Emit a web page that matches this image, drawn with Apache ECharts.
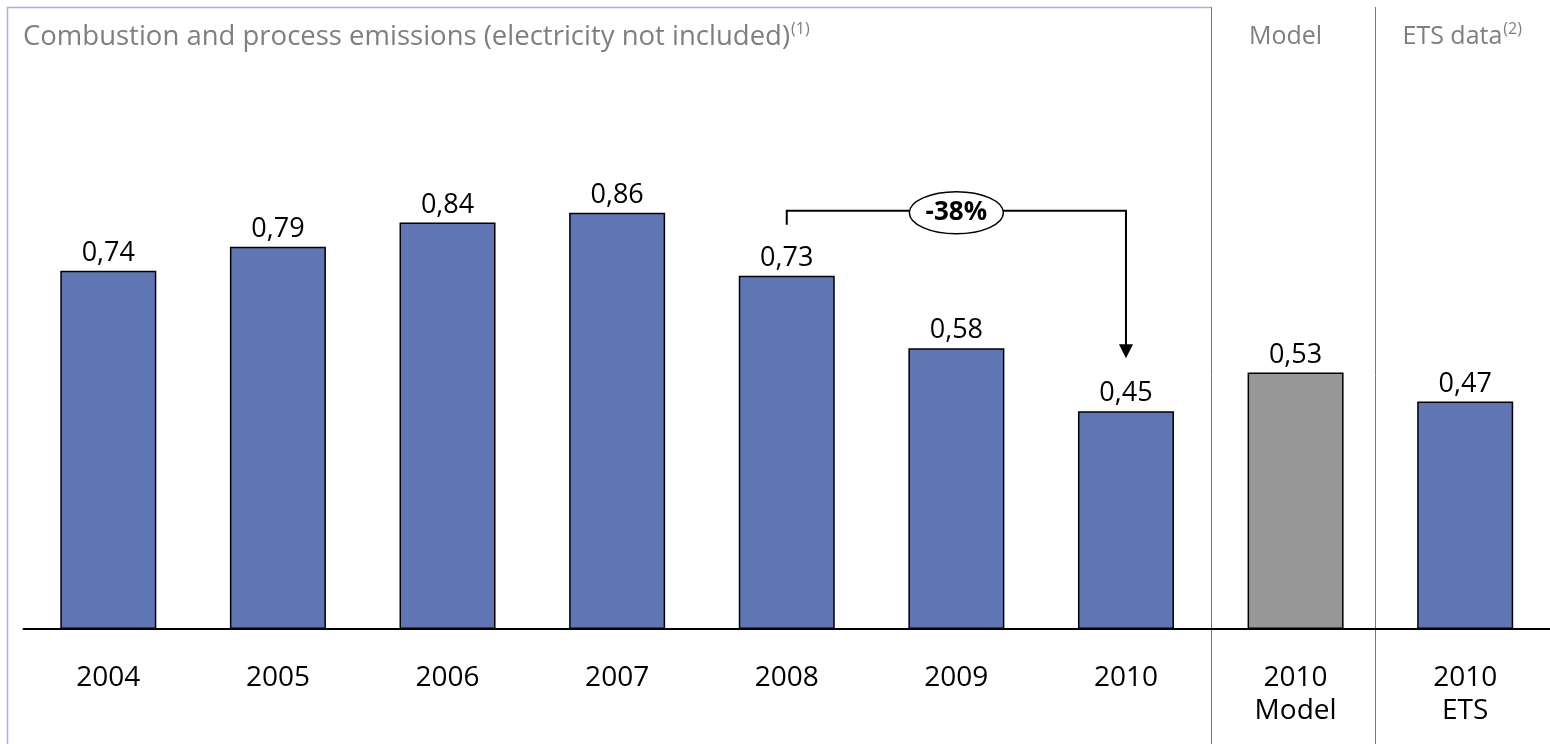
<!DOCTYPE html>
<html>
<head>
<meta charset="utf-8">
<script src="https://cdn.jsdelivr.net/npm/echarts@6/dist/echarts.min.js"></script>
<style>
  html, body { margin: 0; padding: 0; background: #ffffff; }
  #chart { width: 1550px; height: 744px; }
</style>
</head>
<body>
<div id="chart"></div>
<script>
// Emission intensity by year, plus the 2010 model estimate and the 2010 ETS figure
const categories = ['2004', '2005', '2006', '2007', '2008', '2009', '2010', '2010\nModel', '2010\nETS'];
const values = [0.74, 0.79, 0.84, 0.86, 0.73, 0.58, 0.45, 0.53, 0.47];
const titleText = 'Combustion and process emissions (electricity not included)';
const titleNote = '(1)';
const modelHeader = 'Model';
const etsHeader = 'ETS data';
const etsNote = '(2)';
// Change shown between these two years
const changeFrom = 4;
const changeTo = 6;

const FONT = '"Open Sans", "Noto Sans", sans-serif';
const BLUE = '#6076b4';
const GREY = '#979797';
const fmt = v => v.toFixed(2).replace('.', ',');

const chart = echarts.init(document.getElementById('chart'));

chart.setOption({
  animation: false,
  backgroundColor: '#ffffff',
  grid: { left: 23.5, width: 1535, top: 145, bottom: 115 },
  xAxis: {
    type: 'category',
    data: categories,
    axisLine: { lineStyle: { color: '#000000', width: 2 } },
    axisTick: { show: false },
    axisLabel: {
      color: '#000000',
      fontFamily: FONT,
      fontSize: 28,
      lineHeight: 33,
      margin: 33,
      interval: 0
    }
  },
  yAxis: { type: 'value', min: 0, max: 1, show: false },
  series: [{
    type: 'bar',
    data: values,
    barWidth: 96,
    itemStyle: {
      borderColor: '#000000',
      borderWidth: 1.5,
      color: p => categories[p.dataIndex].indexOf('Model') >= 0 ? GREY : BLUE
    },
    label: {
      show: true,
      position: 'top',
      distance: 4,
      color: '#000000',
      fontFamily: FONT,
      fontSize: 27,
      formatter: p => fmt(p.value)
    }
  }]
});

// Decorations placed from the axis scale
function px(i, v) { return chart.convertToPixel({ gridIndex: 0 }, [i, v]); }

const n = categories.length;
const div1 = Math.round((px(n - 3, 0)[0] + px(n - 2, 0)[0]) / 2) + 0.5;
const div2 = Math.round((px(n - 2, 0)[0] + px(n - 1, 0)[0]) / 2 - 5) + 0.5;

const xFrom = px(changeFrom, 0)[0];
const xTo = px(changeTo, 0)[0];
const yStart = px(changeFrom, values[changeFrom])[1] - 51;
const yLevel = px(changeFrom, Math.max.apply(null, values))[1] - 2;
const yTip = px(changeTo, values[changeTo])[1] - 53;
const pct = Math.round((values[changeTo] - values[changeFrom]) / values[changeFrom] * 100);
const midX = (xFrom + xTo) / 2;

const headerRich = { sup: { fontFamily: FONT, fontSize: 16, fill: '#7f7f7f', verticalAlign: 'top', padding: [0, 0, 15, 1] } };

chart.setOption({
  graphic: [
    // outer frame of the yearly panel
    { type: 'polyline', silent: true, shape: { points: [[7.5, 744], [7.5, 7.5], [div1, 7.5]] },
      style: { stroke: '#a8b3cf', lineWidth: 1.5, fill: null } },
    { type: 'line', silent: true, shape: { x1: div1, y1: 7, x2: div1, y2: 744 },
      style: { stroke: '#6677aa', lineWidth: 1 } },
    { type: 'line', silent: true, shape: { x1: div2, y1: 7, x2: div2, y2: 744 },
      style: { stroke: '#6677aa', lineWidth: 1 } },
    // panel headers
    { type: 'text', silent: true, x: 23, y: 37,
      style: { text: titleText + '{sup|' + titleNote + '}', verticalAlign: 'middle', rich: headerRich,
               fontFamily: FONT, fontSize: 27.5, fill: '#7f7f7f' } },
    { type: 'text', silent: true, x: div1 + 74, y: 37,
      style: { text: modelHeader, align: 'center', verticalAlign: 'middle',
               fontFamily: FONT, fontSize: 25, fill: '#7f7f7f' } },
    { type: 'text', silent: true, x: div2 + 27, y: 37,
      style: { text: etsHeader + '{sup|' + etsNote + '}', align: 'left', verticalAlign: 'middle', rich: headerRich,
               fontFamily: FONT, fontSize: 25, fill: '#7f7f7f' } },
    // change bracket with arrow
    { type: 'polyline', silent: true,
      shape: { points: [[xFrom, yStart], [xFrom, yLevel], [xTo, yLevel], [xTo, yTip - 12]] },
      style: { stroke: '#000000', lineWidth: 2, fill: null } },
    { type: 'polygon', silent: true,
      shape: { points: [[xTo - 7, yTip - 14], [xTo + 7, yTip - 14], [xTo, yTip]] },
      style: { fill: '#000000' } },
    { type: 'ellipse', silent: true, shape: { cx: midX, cy: yLevel + 2, rx: 47, ry: 21 },
      style: { fill: '#ffffff', stroke: '#000000', lineWidth: 1.5 } },
    { type: 'text', silent: true, x: midX, y: yLevel + 2,
      style: { text: pct + '%', align: 'center', verticalAlign: 'middle', fontFamily: FONT, fontSize: 26, fontWeight: 'bold', fill: '#000000' } }
  ]
});
</script>
</body>
</html>
